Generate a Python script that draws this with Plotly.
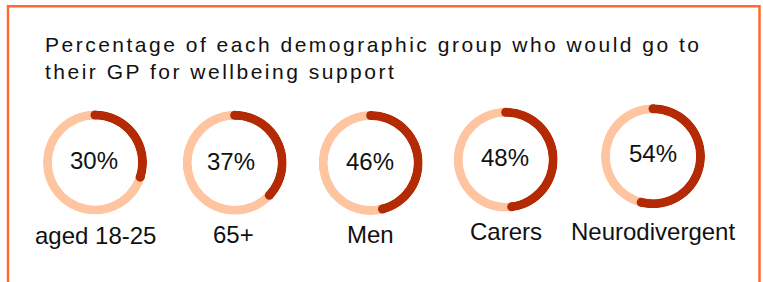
import plotly.graph_objects as go

# ---- data ----
groups = ["aged 18-25", "65+", "Men", "Carers", "Neurodivergent"]
pct = [30, 37, 46, 48, 54]
title_lines = ["Percentage of each demographic group who would go to",
               "their GP for wellbeing support"]

# ---- layout (pixels) ----
W, H = 763, 282
cx = [95, 234.7, 370.7, 505.7, 653]
cy = [162.5, 162.8, 163, 159.7, 156.3]
R = 52
THICK = 9
pct_xy = [(94, 160.5), (231, 161.3), (370, 161), (505.5, 157), (652.5, 153.3)]
lab_xy = [(95, 235), (233.3, 234), (370.8, 234), (506, 231.2), (653.3, 231.8)]

DARK = "#B32A05"
LIGHT = "#FFC5A0"
BORDER = "#FF6B2C"
TEXT = "#111111"
FONT = "Arial, Liberation Sans, Helvetica, sans-serif"

fig = go.Figure()
layout_polars = {}
annotations = []

for i, (g, v) in enumerate(zip(groups, pct)):
    name = "polar" if i == 0 else f"polar{i+1}"
    fig.add_trace(go.Barpolar(r=[1], theta=[180], width=[360], base=0,
                              marker=dict(color=LIGHT, line=dict(width=0)),
                              subplot=name, hoverinfo="skip", showlegend=False))
    fig.add_trace(go.Barpolar(r=[1], theta=[v * 3.6 / 2], width=[v * 3.6], base=0,
                              marker=dict(color=DARK, line=dict(width=0)),
                              subplot=name, hoverinfo="skip", showlegend=False))
    fig.add_trace(go.Scatterpolar(r=[0.5, 0.5], theta=[0, v * 3.6], mode="markers",
                                  marker=dict(color=DARK, size=THICK, line=dict(width=0)),
                                  subplot=name, hoverinfo="skip", showlegend=False))
    layout_polars[name] = dict(
        domain=dict(x=[(cx[i] - R) / W, (cx[i] + R) / W],
                    y=[1 - (cy[i] + R) / H, 1 - (cy[i] - R) / H]),
        hole=(R - THICK) / R,
        bgcolor="rgba(0,0,0,0)",
        barmode="overlay",
        radialaxis=dict(range=[0, 1], visible=False),
        angularaxis=dict(rotation=90, direction="clockwise", visible=False),
    )
    px, py = pct_xy[i]
    annotations.append(dict(text=f"{v}%", x=px / W, y=1 - py / H, xref="paper", yref="paper",
                            xanchor="center", yanchor="middle", showarrow=False,
                            font=dict(size=24, color=TEXT, family=FONT)))
    lx, ly = lab_xy[i]
    annotations.append(dict(text=g, x=lx / W, y=1 - ly / H, xref="paper", yref="paper",
                            xanchor="center", yanchor="middle", showarrow=False,
                            font=dict(size=24, color=TEXT, family=FONT)))

title_text = "<br>".join(f'<span style="letter-spacing:2.5px">{t}</span>' for t in title_lines)
annotations.append(dict(text=title_text, x=42.5 / W, y=1 - 31 / H, xref="paper", yref="paper",
                        xanchor="left", yanchor="top", align="left", showarrow=False,
                        font=dict(size=21, color=TEXT, family=FONT)))

fig.update_layout(
    width=W, height=H,
    margin=dict(l=0, r=0, t=0, b=0),
    paper_bgcolor="white", plot_bgcolor="white",
    annotations=annotations,
    hovermode=False,
    shapes=[dict(type="rect", xref="paper", yref="paper",
                 x0=8 / W, x1=759.5 / W, y0=-0.2, y1=1 - 6.2 / H,
                 line=dict(color=BORDER, width=2.5), fillcolor="rgba(0,0,0,0)", layer="below")],
    **layout_polars,
)

fig.write_html("out.html",
               config={"displayModeBar": False, "staticPlot": True},
               post_script="document.body.style.margin='0';document.body.style.overflow='hidden';")
